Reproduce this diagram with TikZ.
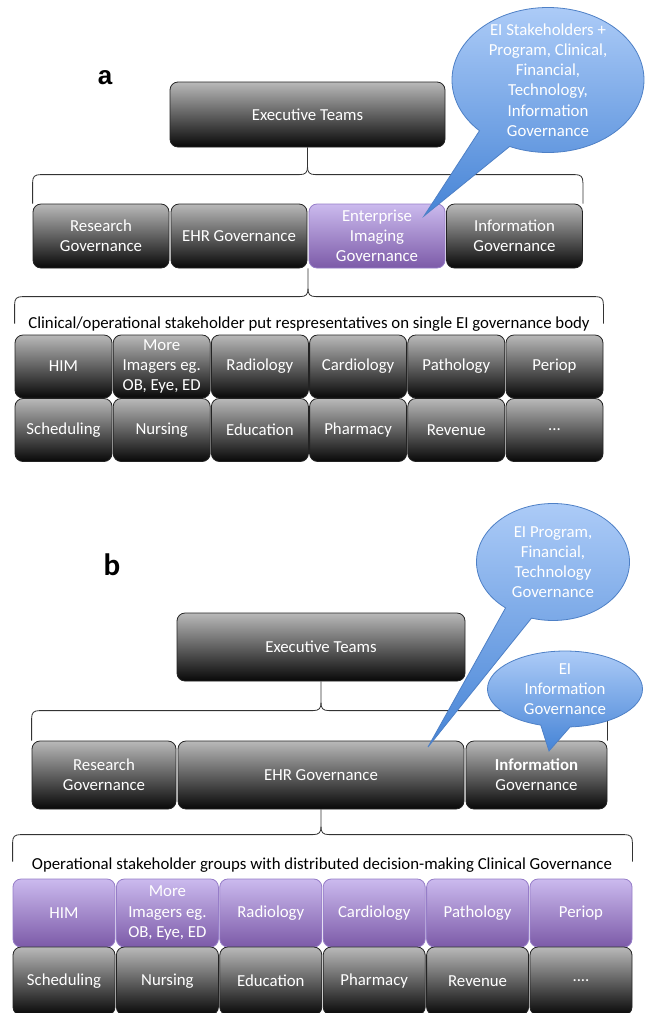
\documentclass[tikz,border=0pt]{standalone}
\usepackage{fontspec}
\setmainfont{Carlito}
\newfontfamily\arialfont{Liberation Sans}
\usetikzlibrary{shapes.callouts,calc}
\definecolor{dtop}{RGB}{185,185,185}
\definecolor{dbot}{RGB}{8,8,8}
\definecolor{dborder}{RGB}{35,35,35}
\definecolor{ptop}{RGB}{203,186,238}
\definecolor{pbot}{RGB}{124,90,168}
\definecolor{pborder}{RGB}{150,125,200}
\definecolor{btop}{RGB}{172,203,247}
\definecolor{bbot}{RGB}{70,132,214}
\definecolor{bborder}{RGB}{78,128,198}
\newcommand\mythreedots{...}
\newcommand\myfourdots{....}
\newcommand\govbrace[5]{%
 \coordinate (#5m) at ($(#1)+(0,-#4)$);
 \draw[bracestyle] (#1) -- ($(#1|-#5m)+(0,8)$) .. controls ($(#1|-#5m)+(0,2)$) and ($(#1|-#5m)+(2,0)$) .. ($(#1|-#5m)+(8,0)$) -- ($(#3|-#5m)+(-8,0)$) .. controls ($(#3|-#5m)+(-2,0)$) and ($(#3|-#5m)+(0,-2)$) .. ($(#3|-#5m)+(0,-8)$) -- (#3);
 \draw[bracestyle] (#2) -- ($(#2|-#5m)+(0,8)$) .. controls ($(#2|-#5m)+(0,2)$) and ($(#2|-#5m)+(-2,0)$) .. ($(#2|-#5m)+(-8,0)$) -- ($(#3|-#5m)+(8,0)$) .. controls ($(#3|-#5m)+(2,0)$) and ($(#3|-#5m)+(0,-2)$) .. ($(#3|-#5m)+(0,-8)$);
}
\tikzset{
 boxfont/.style={font=\fontsize{16.8}{20.2}\selectfont},
 darkbox/.style={boxfont, rounded corners=8, draw=dborder, line width=0.8, top color=dtop, bottom color=dbot, text=white, align=center, inner sep=1},
 purplebox/.style={darkbox, draw=pborder, top color=ptop, bottom color=pbot},
 bluecallout/.style={ellipse callout, draw=bborder, line width=0.8, top color=btop, bottom color=bbot, inner sep=0, callout pointer arc=22},
 callouttext/.style={boxfont, text=white, align=center, inner sep=0},
 captext/.style={boxfont, text=black, inner sep=0},
 bracestyle/.style={draw=black!80, line width=0.8},
 panellabel/.style={text=black, inner sep=0}
}
\begin{document}
\begin{tikzpicture}[x=1pt,y=-1pt]
\useasboundingbox[fill=white] (0,0) rectangle (645,1013);

% ---------------- panel a ----------------
\node[panellabel, font=\arialfont\bfseries\fontsize{26}{26}\selectfont] (labA) at (105,78) {a};
\node[darkbox, minimum width=275, minimum height=65] (execA) at (307.5,114.5) {Executive Teams};
\node[darkbox, minimum width=136, minimum height=64] (resA) at (101,236) {Research\\Governance};
\node[darkbox, minimum width=136, minimum height=64] (ehrA) at (239,236) {EHR Governance};
\node[purplebox, minimum width=136, minimum height=64] (eiA) at (377,236) {Enterprise\\Imaging\\Governance};
\node[darkbox, minimum width=136, minimum height=64] (infoA) at (514.5,236) {Information\\Governance};

\foreach \t [count=\i from 0] in {HIM,{More\\Imagers eg.\\OB, Eye, ED},Radiology,Cardiology,Pathology,Periop}
  \node[darkbox, minimum width=97, minimum height=63] (gaA\i) at (63.5+98.2*\i,366.5) {\t};
\foreach \t [count=\i from 0] in {Scheduling,Nursing,Education,Pharmacy,Revenue,\mythreedots}
  \node[darkbox, minimum width=97, minimum height=63] (gbA\i) at (63.5+98.2*\i,430) {\t};

\node[captext] (capA) at (309,324) {Clinical/operational stakeholder put respresentatives on single EI governance body};

\coordinate (a2tip) at ($(ehrA.south east)!0.5!(eiA.south west)$);
\coordinate (a2L) at ($(gaA0.north west)+(0,-11)$);
\coordinate (a2R) at ($(gaA5.north east)+(0,-11)$);
\govbrace{resA.north west}{infoA.north east}{execA.south}{29}{ba}
\govbrace{a2L}{a2R}{a2tip}{27}{bb}

\coordinate (ptA) at (424,216);
\node[bluecallout, minimum width=192, minimum height=145, callout absolute pointer={(ptA)}] (calA) at (548,80) {};
\node[callouttext] (calAtext) at (calA.center) {EI Stakeholders +\\Program, Clinical,\\Financial,\\Technology,\\Information\\Governance};

% ---------------- panel b ----------------
\node[panellabel, font=\bfseries\fontsize{31}{31}\selectfont] (labB) at (112,565) {b};
\node[darkbox, minimum width=288, minimum height=68] (execB) at (321,647) {Executive Teams};
\node[darkbox, minimum width=144, minimum height=68] (resB) at (104,775) {Research\\Governance};
\node[darkbox, minimum width=286, minimum height=68] (ehrB) at (321,775) {EHR Governance};
\node[darkbox, minimum width=141, minimum height=68] (infoB) at (536.5,775) {\textbf{Information}\\Governance};

\foreach \t [count=\i from 0] in {HIM,{More\\Imagers eg.\\OB, Eye, ED},Radiology,Cardiology,Pathology,Periop}
  \node[purplebox, minimum width=102, minimum height=68] (gaB\i) at (64+103.4*\i,913) {\t};
\foreach \t [count=\i from 0] in {Scheduling,Nursing,Education,Pharmacy,Revenue,\myfourdots}
  \node[darkbox, minimum width=102, minimum height=68] (gbB\i) at (64+103.4*\i,981) {\t};

\node[captext] (capB) at (322,865) {Operational stakeholder groups with distributed decision-making Clinical Governance};

\coordinate (b2L) at ($(gaB0.north west)+(0,-17)$);
\coordinate (b2R) at ($(gaB5.north east)+(0,-17)$);
\govbrace{resB.north west}{infoB.north east}{execB.south}{30}{bc}
\govbrace{b2L}{b2R}{ehrB.south}{27}{bd}

\coordinate (ptB1) at (428,747);
\node[bluecallout, minimum width=153, minimum height=117, callout absolute pointer={(ptB1)}] (calB1) at (553,562) {};
\node[callouttext] (calB1text) at (calB1.center) {EI Program,\\Financial,\\Technology\\Governance};
\coordinate (ptB2) at (549,751);
\node[bluecallout, minimum width=155, minimum height=76, callout absolute pointer={(ptB2)}] (calB2) at (565,689) {};
\node[callouttext] (calB2text) at (calB2.center) {EI\\Information\\Governance};
\end{tikzpicture}
\end{document}
